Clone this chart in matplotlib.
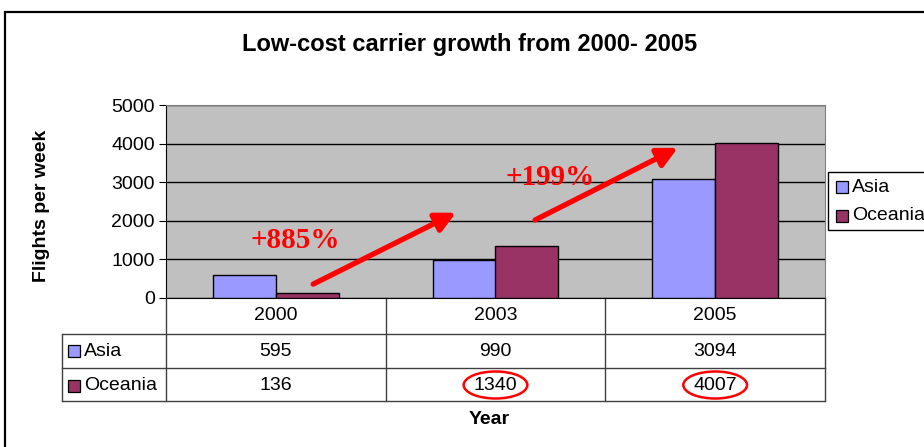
import matplotlib
matplotlib.use("Agg")
import matplotlib.pyplot as plt
from matplotlib.patches import Rectangle, Ellipse
from matplotlib.lines import Line2D
from matplotlib.transforms import blended_transform_factory
import numpy as np

years = ["2000", "2003", "2005"]
series_names = ["Asia", "Oceania"]
asia = [595, 990, 3094]
oceania = [136, 1340, 4007]
colors = ["#9999FF", "#993366"]
growth_labels = ["+885%", "+199%"]
circled = [(1, oceania[1]), (2, oceania[2])]

W, H = 924, 447
plt.rcParams['font.family'] = ['Liberation Sans', 'DejaVu Sans']
fig = plt.figure(figsize=(W / 100, H / 100), dpi=100)

def fx(px):
    return px / W

def fy(py):
    return 1 - py / H

# outer border
fig.patches.append(Rectangle((fx(5), fy(470)), fx(940), fy(12) - fy(470),
                             transform=fig.transFigure, fill=False,
                             edgecolor="black", lw=1.6, clip_on=False))

L, R, T, B = 166, 825, 105, 298
ax = fig.add_axes([fx(L), fy(B), fx(R - L), fy(T) - fy(B)])
ax.set_facecolor("#C0C0C0")
x = np.arange(len(years))
bw = 0.2857
ax.bar(x - bw / 2, asia, bw, color=colors[0], edgecolor="black", lw=1, zorder=3)
ax.bar(x + bw / 2, oceania, bw, color=colors[1], edgecolor="black", lw=1, zorder=3)
ax.set_xlim(-0.5, 2.5)
ax.set_ylim(0, 5000)
ax.set_yticks(range(0, 5001, 1000))
ax.yaxis.grid(True, color="black", lw=1)
ax.set_axisbelow(True)
ax.set_xticks([])
ax.tick_params(axis="y", labelsize=14, length=5, direction="out", pad=3)
for s in ["top", "right"]:
    ax.spines[s].set_color("#808080")
ax.spines["left"].set_color("black")
ax.spines["bottom"].set_color("black")

# arrows and growth labels (data coords)
arrows = [((0.17, 360), (0.82, 2210)), ((1.18, 2020), (1.83, 3890))]
for (t, h) in arrows:
    ax.annotate("", xy=h, xytext=t,
                arrowprops=dict(arrowstyle="-|>,head_length=1.2,head_width=0.6",
                                color="#FF0000", lw=3.8, shrinkA=0, shrinkB=0),
                zorder=5)
ax.text(0.09, 1480, growth_labels[0], color="#FF0000", fontsize=21, fontweight="bold",
        family=["Liberation Serif"], ha="center", va="center", zorder=5)
ax.text(1.25, 3110, growth_labels[1], color="#FF0000", fontsize=21, fontweight="bold",
        family=["Liberation Serif"], ha="center", va="center", zorder=5)

# data table
tr = blended_transform_factory(ax.transData, fig.transFigure)
lc = "#404040"
TL = 62
row_y = [298, 334, 368, 401]
for yy in row_y[1:]:
    fig.lines.append(Line2D([fx(TL), fx(R)], [fy(yy), fy(yy)], transform=fig.transFigure,
                            color=lc, lw=1))
for xx in [L, R]:
    fig.lines.append(Line2D([fx(xx), fx(xx)], [fy(298), fy(401)], transform=fig.transFigure,
                            color=lc, lw=1))
fig.lines.append(Line2D([fx(TL), fx(TL)], [fy(334), fy(401)], transform=fig.transFigure,
                        color=lc, lw=1))
for xb in [0.5, 1.5]:
    ax.add_line(Line2D([xb, xb], [fy(298), fy(401)], transform=tr, color=lc, lw=1,
                       clip_on=False))

cy = [316, 351, 386]
for i, yr in enumerate(years):
    ax.text(i, fy(cy[0]), yr, transform=tr, ha="center", va="center", fontsize=14)
    ax.text(i, fy(cy[1]), str(asia[i]), transform=tr, ha="center", va="center", fontsize=14)
    ax.text(i, fy(cy[2]), str(oceania[i]), transform=tr, ha="center", va="center", fontsize=14)
for j, name in enumerate(series_names):
    yc = cy[j + 1]
    fig.patches.append(Rectangle((fx(68), fy(yc + 6)), fx(12), fy(yc - 6) - fy(yc + 6),
                                 transform=fig.transFigure, facecolor=colors[j],
                                 edgecolor="black", lw=0.9))
    fig.text(fx(84), fy(yc), name, ha="left", va="center", fontsize=14)

for (ci, val) in circled:
    ax.add_patch(Ellipse((ci, fy(385)), 0.29, 27 / H, transform=tr, fill=False,
                         edgecolor="#FF0000", lw=1.8, clip_on=False))

# titles
fig.text(fx(470), fy(44), "Low-cost carrier growth from 2000- 2005", ha="center",
         va="center", fontsize=17, fontweight="bold")
fig.text(fx(42), fy(206), "Flights per week", rotation=90, ha="center", va="center",
         fontsize=14, fontweight="bold")
fig.text(fx(489), fy(419), "Year", ha="center", va="center", fontsize=14, fontweight="bold")

# legend
fig.patches.append(Rectangle((fx(828), fy(230)), fx(120), fy(172) - fy(230),
                             transform=fig.transFigure, facecolor="white",
                             edgecolor="black", lw=1))
for j, name in enumerate(series_names):
    yc = [187, 216][j]
    fig.patches.append(Rectangle((fx(836), fy(yc + 6)), fx(12), fy(yc - 6) - fy(yc + 6),
                                 transform=fig.transFigure, facecolor=colors[j],
                                 edgecolor="black", lw=0.9))
    fig.text(fx(852), fy(yc), name, ha="left", va="center", fontsize=14)

fig.savefig("out.png", dpi=100)
